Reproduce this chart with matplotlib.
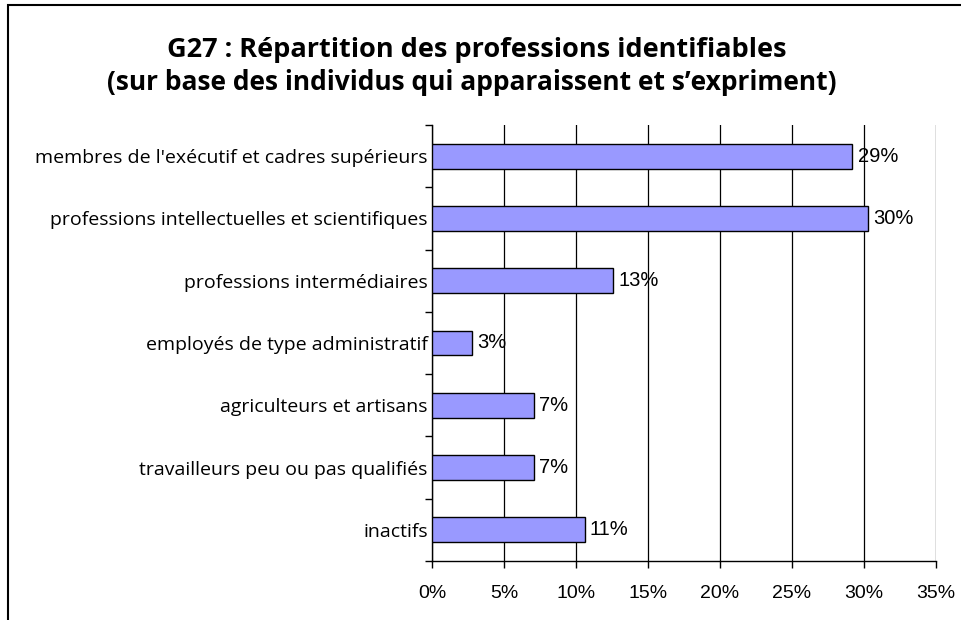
import numpy as np
import matplotlib.pyplot as plt
from matplotlib.patches import Rectangle

# data
categories = [
    "membres de l'exécutif et cadres supérieurs",
    "professions intellectuelles et scientifiques",
    "professions intermédiaires",
    "employés de type administratif",
    "agriculteurs et artisans",
    "travailleurs peu ou pas qualifiés",
    "inactifs",
]
values = [29.2, 30.3, 12.6, 2.8, 7.1, 7.1, 10.6]
value_labels = ["29%", "30%", "13%", "3%", "7%", "7%", "11%"]
xticks = [0, 5, 10, 15, 20, 25, 30, 35]

title_lines = ["G27 : Répartition des professions identifiables",
               "(sur base des individus qui apparaissent et s\u2019expriment)"]

fig = plt.figure(figsize=(9.62, 6.2), dpi=100)
W, H = 962, 620

# outer chart frame (cut on the right and bottom)
fig.add_artist(Rectangle((8 / W, -0.1), 1.2, (H - 5) / H + 0.1, transform=fig.transFigure,
                         fill=False, edgecolor="black", linewidth=1.5))

ax = fig.add_axes([432 / W, 1 - 561 / H, 504 / W, 436 / H])

n = len(categories)
y = np.arange(n)
ax.barh(y, values, height=0.4, color="#9999ff", edgecolor="black", linewidth=1, zorder=3)

for yi, v, lab in zip(y, values, value_labels):
    ax.text(v + 0.35, yi, lab, va="center", ha="left", fontsize=14.5,
            family="Liberation Sans", zorder=4)

ax.set_xlim(0, 35)
ax.set_ylim(n - 0.5, -0.5)
ax.set_xticks(xticks)
ax.set_xticklabels([f"{t}%" for t in xticks], family="Liberation Sans", fontsize=14)
ax.tick_params(axis="x", length=5, width=1, pad=12, direction="out")

ax.set_yticks(y)
ax.set_yticklabels(categories, family="Open Sans", fontsize=14)
ax.tick_params(axis="y", which="major", length=0, pad=3)
ax.set_yticks(np.arange(-0.5, n, 1.0), minor=True)
ax.tick_params(axis="y", which="minor", length=5, width=1, direction="out")

ax.grid(axis="x", color="black", linewidth=0.9, zorder=0)
for s in ["top", "right"]:
    ax.spines[s].set_visible(False)
for s in ["left", "bottom"]:
    ax.spines[s].set_linewidth(1)

fig.text(477 / W, 1 - 50 / H, title_lines[0], ha="center", va="center", fontsize=19.5,
         fontweight="bold", family="Open Sans")
fig.text(472 / W, 1 - 83 / H, title_lines[1], ha="center", va="center", fontsize=19,
         fontweight="bold", family="Open Sans")

fig.savefig("out.png", dpi=100)
